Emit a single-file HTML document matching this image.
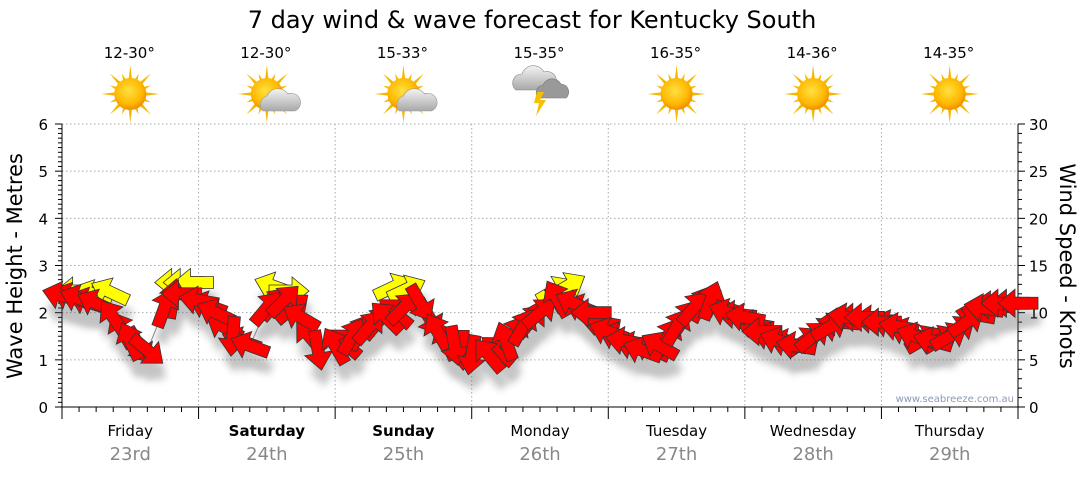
<!DOCTYPE html>
<html><head><meta charset="utf-8">
<style>
body{margin:0;background:#fff;font-family:"Liberation Sans","DejaVu Sans",sans-serif;}
svg text{font-family:"DejaVu Sans","Liberation Sans",sans-serif;}
</style></head>
<body>
<svg id="chart" width="1080" height="475" viewBox="0 0 1080 475" xmlns="http://www.w3.org/2000/svg">
<defs>
<filter id="sh" x="-50%" y="-50%" width="200%" height="200%"><feGaussianBlur stdDeviation="4"/></filter>
<radialGradient id="sun" cx="45%" cy="40%" r="60%"><stop offset="0" stop-color="#ffe040"/><stop offset="0.7" stop-color="#ffb800"/><stop offset="1" stop-color="#f08c00"/></radialGradient>
<linearGradient id="cloud" x1="0" y1="0" x2="0" y2="1"><stop offset="0" stop-color="#f4f4f4"/><stop offset="1" stop-color="#a8a8a8"/></linearGradient>
</defs>
<text x="532" y="28" font-size="24" text-anchor="middle" fill="#000">7 day wind &amp; wave forecast for Kentucky South</text>
<g id="grid"></g><g id="axes"></g><g id="icons"></g>
<g id="shadows" opacity="0.35"></g>
<g id="arrows"></g>
<text x="1014" y="402" font-size="10" text-anchor="end" fill="#8a9ab8">www.seabreeze.com.au</text>
<text transform="translate(22,266) rotate(-90)" font-size="21" text-anchor="middle">Wave Height - Metres</text>
<text transform="translate(1060,266) rotate(90)" font-size="21" text-anchor="middle">Wind Speed - Knots</text>
</svg>
<script>
const days=["Friday","Saturday","Sunday","Monday","Tuesday","Wednesday","Thursday"];
const dates=["23rd","24th","25th","26th","27th","28th","29th"];
const boldDays=[false,true,true,false,false,false,false];
const temps=["12-30°","12-30°","15-33°","15-35°","16-35°","14-36°","14-35°"];
const weather=["sun","suncloud","suncloud","storm","sun","sun","sun"];
const waveTicks=[0,1,2,3,4,5,6];
const windTicks=[0,5,10,15,20,25,30];
// wind every 3 hours
const windKn=[11.8,11.5,11,9.5,7,6,10.5,12,11.3,10,7.5,6.5,10.5,11.3,9.5,6,6.5,7.5,8.5,9.5,10.5,11,8,6.5,5.5,5.5,7,8.5,10,11.5,11,10,8,7,6,6.5,8.5,10.5,11.3,10,9.5,8,7,6.5,7.5,8.5,9.5,9.5,9,8.5,7.5,7,7.5,9,10.5,11,11];
const windDir=[195,200,205,235,245,40,-70,180,190,205,95,200,-50,-45,210,80,240,-60,-50,225,-45,60,240,80,100,230,250,-60,-40,-120,205,180,200,190,200,210,-60,-50,-70,200,190,180,200,190,-40,-30,190,180,180,190,200,195,-30,-35,190,180,180];
// extra intermediate arrows
const midIdx=[0.5,1.5,3.5,4.5,6.5,8.5,9.5,10.5,12.5,13.5,14.5,16.5,17.5,18.5,19.5,21.5,22.5,23.5,25.5,26.5,27.5,28.5,30.5,31.5,32.5,33.5,34.5,35.5,36.5,37.5,38.5,39.5,40.5,41.5,42.5,43.5,44.5,45.5,46.5,47.5,48.5,49.5,50.5,51.5,52.5,53.5,54.5,55.5];
const midKn=[11.7,11.2,8.2,6.5,11.5,10.8,8.5,7,11,10.5,7.5,6.8,8,9,10,9.5,7,6,6,7.8,9.2,11,10.5,9,7.5,6.5,6.2,7.5,9.5,11,10.8,9.8,8.8,7.5,6.8,7,8,9,9.5,9.3,8.8,8,7.2,7.2,8.2,9.8,10.8,11];
const midDir=[200,200,240,60,-80,200,210,200,-50,-40,230,220,-60,-50,220,60,245,90,220,-60,-50,-30,200,190,200,195,205,-60,-55,-60,200,185,190,195,195,-35,-35,185,180,185,195,200,-30,-30,-35,190,185,180];
// yellow arrows
const yelIdx=[0.8,1.8,2.8,6.6,7.1,7.7,12.4,13.3,19.4,20.2,28.9,29.6];
const yelKn=[12.3,12.0,12.2,13.2,13.2,13.2,12.8,12.3,12.7,12.5,12.4,12.8];
const yelDir=[180,200,205,180,180,180,200,0,-25,-25,-30,-30];

const NS="http://www.w3.org/2000/svg";
const X0=62,X1=1018,Y0=407,Y1=124;
const xIdx=i=>X0+i*(X1-X0)/56;
const yWave=m=>Y0-m*(Y0-Y1)/6;
const yWind=k=>Y0-k*(Y0-Y1)/30;
const dayW=(X1-X0)/7;
function mk(tag,attrs,parent){const e=document.createElementNS(NS,tag);for(const k in attrs)e.setAttribute(k,attrs[k]);parent.appendChild(e);return e;}
const grid=document.getElementById('grid'),axes=document.getElementById('axes'),icons=document.getElementById('icons');
waveTicks.forEach(m=>{if(m>0){const l=mk('line',{x1:X0,x2:X1,y1:yWave(m),y2:yWave(m),stroke:'#aaa','stroke-dasharray':'1.5,2.5'},grid);

}});
for(let d=1;d<7;d++){const l=mk('line',{x1:X0+d*dayW,x2:X0+d*dayW,y1:Y1,y2:Y0,stroke:'#aaa','stroke-dasharray':'1.5,2.5'},grid);

}
mk('line',{x1:X0,x2:X0,y1:Y1,y2:Y0,stroke:'#000'},axes);
mk('line',{x1:X1,x2:X1,y1:Y1,y2:Y0,stroke:'#000'},axes);
mk('line',{x1:X0,x2:X1,y1:Y0,y2:Y0,stroke:'#000'},axes);
for(let k=0;k<=60;k++){const y=Y0-k*(Y0-Y1)/60;const big=k%10==0;
mk('line',{x1:X0-(big?7:4),x2:X0,y1:y,y2:y,stroke:'#000'},axes);}
for(let k=0;k<=30;k++){const y=yWind(k);const big=k%5==0;
mk('line',{x1:X1,x2:X1+(big?7:4),y1:y,y2:y,stroke:'#000'},axes);}
for(let h=0;h<=56;h++){const x=xIdx(h);mk('line',{x1:x,x2:x,y1:Y0,y2:Y0+(h%8==0?12:5),stroke:'#000'},axes);}
waveTicks.forEach(m=>{const t=mk('text',{x:X0-14,y:yWave(m)+6,'font-size':15,'text-anchor':'end'},axes);t.textContent=m;

});
windTicks.forEach(k=>{const t=mk('text',{x:X1+11,y:yWind(k)+6,'font-size':15},axes);t.textContent=k;

});
days.forEach((d,i)=>{const cx=X0+(i+0.5)*dayW;
const t=mk('text',{x:cx,y:436,'font-size':15,'text-anchor':'middle','font-weight':boldDays[i]?'bold':'normal'},axes);t.textContent=d;


const t2=mk('text',{x:cx,y:460,'font-size':18,'text-anchor':'middle',fill:'#888'},axes);t2.textContent=dates[i];


const t3=mk('text',{x:cx-1,y:58,'font-size':15,'text-anchor':'middle'},icons);t3.textContent=temps[i];


const g=mk('g',{transform:`translate(${cx},94)`},icons);


if(weather[i]!='storm'){
for(let r=0;r<16;r++){const a=r*Math.PI/8,L=r%2?22:29;
mk('polygon',{points:`${Math.cos(a)*L},${Math.sin(a)*L} ${Math.cos(a+0.15)*13},${Math.sin(a+0.15)*13} ${Math.cos(a-0.15)*13},${Math.sin(a-0.15)*13}`,fill:'#f5b800'},g);}
mk('circle',{r:16,fill:'url(#sun)'},g);}
if(weather[i]=='suncloud'){mk('path',{d:'M-4,17 a9,9 0 0 1 4,-15 a12,12 0 0 1 21,-2 a9,9 0 0 1 7,17 z',fill:'url(#cloud)',stroke:'#999','stroke-width':0.6},g);}
if(weather[i]=='storm'){mk('path',{d:'M-22,4 a9,9 0 0 1 6,-16 a12,12 0 0 1 22,-2 a9,9 0 0 1 6,18 z',fill:'url(#cloud)',stroke:'#888','stroke-width':0.6,transform:'translate(-2,-8)'},g);
mk('path',{d:'M-6,10 a8,8 0 0 1 5,-13 a10,10 0 0 1 18,-1 a8,8 0 0 1 5,14 z',fill:'#999',stroke:'#777','stroke-width':0.6,transform:'translate(4,-6)'},g);
mk('polygon',{points:'-3,-2 4,-2 0,6 6,6 -4,22 -1,9 -6,9',fill:'#f5c000'},g);}
});
const arrowPts="-20,-6 3,-6 3,-14 20,0 3,14 3,6 -20,6";
const sh=document.getElementById('shadows'),ar=document.getElementById('arrows');
function arrow(x,y,ang,fill,name){
 const s=mk('polygon',{points:arrowPts,fill:'#555',filter:'url(#sh)',transform:`translate(${x+3},${y+16}) rotate(${ang})`},sh);
 
 
 const p=mk('polygon',{points:arrowPts,fill:fill,stroke:'#333','stroke-width':0.8,transform:`translate(${x},${y}) rotate(${ang})`},ar);
 
 
}
let d='';windKn.forEach((k,i)=>{d+=(i?'L':'M')+xIdx(i)+','+yWind(k);});
const ln=mk('path',{d:d,fill:'none',stroke:'#888','stroke-width':1},ar);


yelIdx.forEach((v,i)=>arrow(xIdx(v),yWind(yelKn[i]),yelDir[i],'#ffff00','gust-arrow'));
midIdx.forEach((v,i)=>arrow(xIdx(v),yWind(midKn[i]),midDir[i],'#ff0000','wind-arrow'));
windKn.forEach((k,i)=>arrow(xIdx(i),yWind(k),windDir[i],'#ff0000','wind-arrow'));
</script>
</body></html>
